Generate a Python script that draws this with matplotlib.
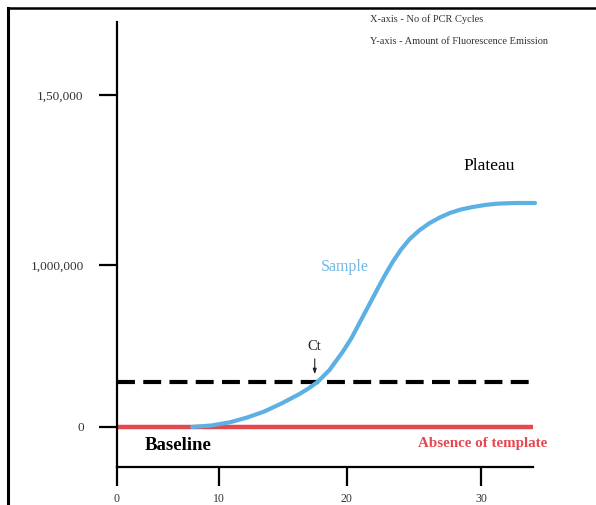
import numpy as np
import matplotlib
matplotlib.use("Agg")
import matplotlib.pyplot as plt
from matplotlib.lines import Line2D

# ---------------- data ----------------
cycles = [7.35, 9.22, 10.87, 12.20, 13.54, 14.96, 16.30, 17.01, 17.72, 18.66,
          19.69, 20.37, 21.12, 21.79, 22.46, 22.91, 23.43, 24.03, 24.70, 25.45,
          26.19, 26.94, 27.69, 28.51, 29.40, 30.30, 31.19, 32.54, 34.03]
fluorescence = [0, 9300, 29600, 58600, 95700, 148100, 203700, 237700, 277800, 351900,
                463000, 549400, 666700, 771600, 876500, 944400, 1018500, 1092600, 1160500, 1216000,
                1259300, 1293200, 1321000, 1342600, 1358000, 1370400, 1378400, 1382700, 1382700]
threshold = 278000
baseline_level = 0
cycle_range = [0, 33.9]
ct_cycle = 17.5

xtick_values = [0, 10, 20, 30]
xtick_labels = ["0", "10", "20", "30"]
ytick_values = [0, 1000000, 2050000]
ytick_labels = ["0", "1,000,000", "1,50,000"]

# ---------------- style ----------------
plt.rcParams['font.family'] = ['Liberation Serif', 'DejaVu Serif']
BLUE = '#5cb0e4'
RED = '#e5474e'

fig = plt.figure(figsize=(5.96, 5.05), dpi=100)
W, H = 596, 505
ax = fig.add_axes([117 / W, (H - 467) / H, (540 - 117) / W, (467 - 22) / H])

# hand-drawn (non-uniform) cycle axis
knots = [-10, 0, 10, 20, 30, 40]
knot_px = [16, 118, 220, 347, 481, 615]
fwd = lambda x: np.interp(x, knots, knot_px)
inv = lambda p: np.interp(p, knot_px, knots)
ax.set_xscale('function', functions=(fwd, inv))
ax.set_xlim(0, 34.4)
ax.set_ylim(-247000, 2500000)

# lines
ax.plot(cycle_range, [baseline_level, baseline_level], color=RED, lw=3.2,
        solid_capstyle='butt', zorder=2)
ax.plot(cycle_range, [threshold, threshold], color='black', lw=3.0,
        linestyle=(0, (4.3, 2.0)), dash_capstyle='butt', zorder=3)
ax.plot(cycles, fluorescence, color=BLUE, lw=3.0, solid_joinstyle='round',
        solid_capstyle='round', zorder=4)

# spines & ticks
for s in ['top', 'right']:
    ax.spines[s].set_visible(False)
ax.spines['left'].set_linewidth(1.6)
ax.spines['bottom'].set_linewidth(1.6)
ax.spines['bottom'].set_bounds(cycle_range[0], cycle_range[1])
ax.set_xticks(xtick_values)
ax.set_xticklabels(xtick_labels)
ax.set_yticks(ytick_values)
ax.set_yticklabels(ytick_labels)
ax.tick_params(axis='x', direction='out', length=14, width=1.6, pad=5,
               labelsize=8.5, labelcolor='#333333')
ax.tick_params(axis='y', direction='out', length=13, width=1.6, pad=11,
               labelsize=9.5, labelcolor='#333333')
ax.patch.set_visible(False)

# annotations
ax.text(30.6, 1611000, "Plateau", ha='center', va='center', fontsize=12.5, color='black')
ax.text(19.84, 988000, "Sample", ha='center', va='center', fontsize=11.5, color='#72b9e3')
ax.annotate("Ct", xy=(ct_cycle, 325000), xytext=(ct_cycle, 495000), ha='center', va='center',
            fontsize=10.5, color='#222222',
            arrowprops=dict(arrowstyle='-|>,head_length=0.3,head_width=0.1',
                            color='#222222', lw=0.8, shrinkA=2, shrinkB=0))
ax.text(2.7, -117000, "Baseline", ha='left', va='center', fontsize=13.5,
        fontweight='bold', color='black')
ax.text(30.15, -105000, "Absence of template", ha='center', va='center', fontsize=10.8,
        fontweight='bold', color=RED)

# legend-like notes
fig.text(370 / W, 1 - 19 / H, "X-axis - No of PCR Cycles", ha='left', va='center',
         fontsize=7.5, color='#333333')
fig.text(370 / W, 1 - 41 / H, "Y-axis - Amount of Fluorescence Emission", ha='left',
         va='center', fontsize=7.5, color='#333333')

# outer frame (top & left)
fig.add_artist(Line2D([8 / W, 1.0], [1 - 8 / H, 1 - 8 / H], color='black', lw=1.8,
                      transform=fig.transFigure))
fig.add_artist(Line2D([8 / W, 8 / W], [0, 1 - 8 / H], color='black', lw=2.2,
                      transform=fig.transFigure))

fig.savefig("out.png", dpi=100)
